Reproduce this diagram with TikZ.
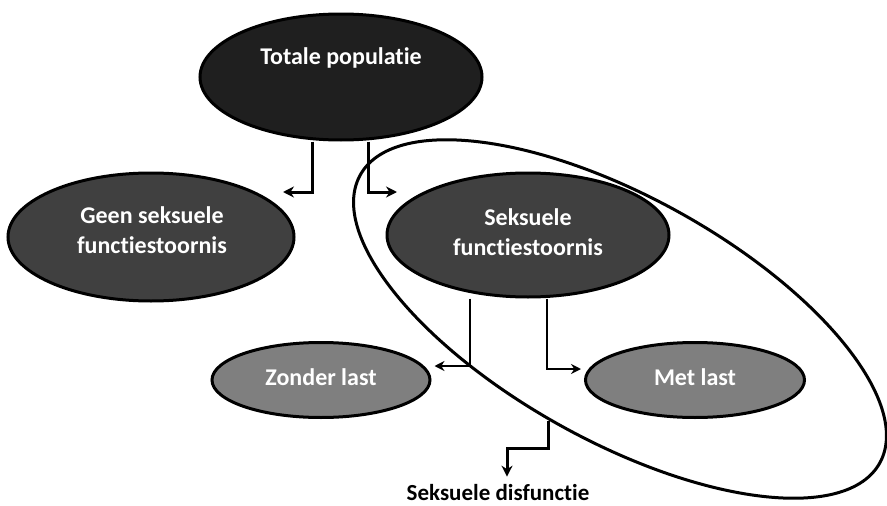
\documentclass[tikz,border=0pt]{standalone}
\usepackage{fontspec}
\setmainfont{Carlito}[Ligatures=NoCommon]
\usepackage{tikz}
\tikzset{>=stealth}
\usetikzlibrary{arrows.meta, shapes.geometric, positioning}

\definecolor{darkest}{HTML}{1F1F1F}
\definecolor{darkgrey}{HTML}{404040}
\definecolor{midgrey}{HTML}{7F7F7F}

\tikzset{
  blob/.style={ellipse, draw=black, line width=3pt, inner sep=0pt},
  blobtext/.style={text=white, font=\bfseries\fontsize{24}{30}\selectfont, align=center},
  elbow/.style={line width=3pt, -{Stealth[length=11pt,width=11pt]}},
  thinelbow/.style={line width=2.5pt, -{Stealth[length=10pt,width=10pt]}}
}

\begin{document}
\begin{tikzpicture}[x=1pt,y=-1pt]
        \useasboundingbox (0,0) rectangle (887,506);

        % Draw the ellipses
        \node[blob, fill=darkest, minimum width=282, minimum height=126] (tot) at (341,77) {};
        \node[blob, fill=darkgrey, minimum width=286, minimum height=128] (geen) at (151,237) {};
        \node[blob, fill=darkgrey, minimum width=282, minimum height=124] (sek) at (528,235) {};
        \node[blob, fill=midgrey, minimum width=218, minimum height=75] (zon) at (321,380) {};
        \node[blob, fill=midgrey, minimum width=219, minimum height=75] (met) at (695,380) {};

        % Group round the functiestoornis branch
        \node[ellipse, draw=black, line width=3pt, rotate=-29, minimum width=594, minimum height=244] (groep) at (620,319) {};

        % Texts
        \node[blobtext] (tottxt) at (341,58) {Totale populatie};
        \node[blobtext] (geentxt) at (152,230) {Geen seksuele\\functiestoornis};
        \node[blobtext] (sektxt) at (528,232) {Seksuele\\functiestoornis};
        \node[blobtext] (zontxt) at (321,377) {Zonder last};
        \node[blobtext] (mettxt) at (695,377) {Met last};
        \node[font=\bfseries\fontsize{23}{26}\selectfont, anchor=base, inner sep=0pt] (disf) at (498,500) {Seksuele disfunctie};

        % Free ends of the upper connectors
        \coordinate (geenin) at (283,192);
        \coordinate (sekin) at (397,192);

        % Connectors
        \draw[elbow] ([xshift=-29pt]tot.south) |- (geenin);
        \draw[elbow] ([xshift=27pt]tot.south) |- (sekin);
        \draw[thinelbow] ([xshift=-58pt]sek.south) |- ([xshift=3pt,yshift=14pt]zon.east);
        \draw[thinelbow] ([xshift=19pt]sek.south) |- ([xshift=-3pt,yshift=11pt]met.west);
        \draw[elbow] (groep.264) -- ++(0,28) -| ([xshift=9pt,yshift=7pt]disf.north);

    \end{tikzpicture}
\end{document}
